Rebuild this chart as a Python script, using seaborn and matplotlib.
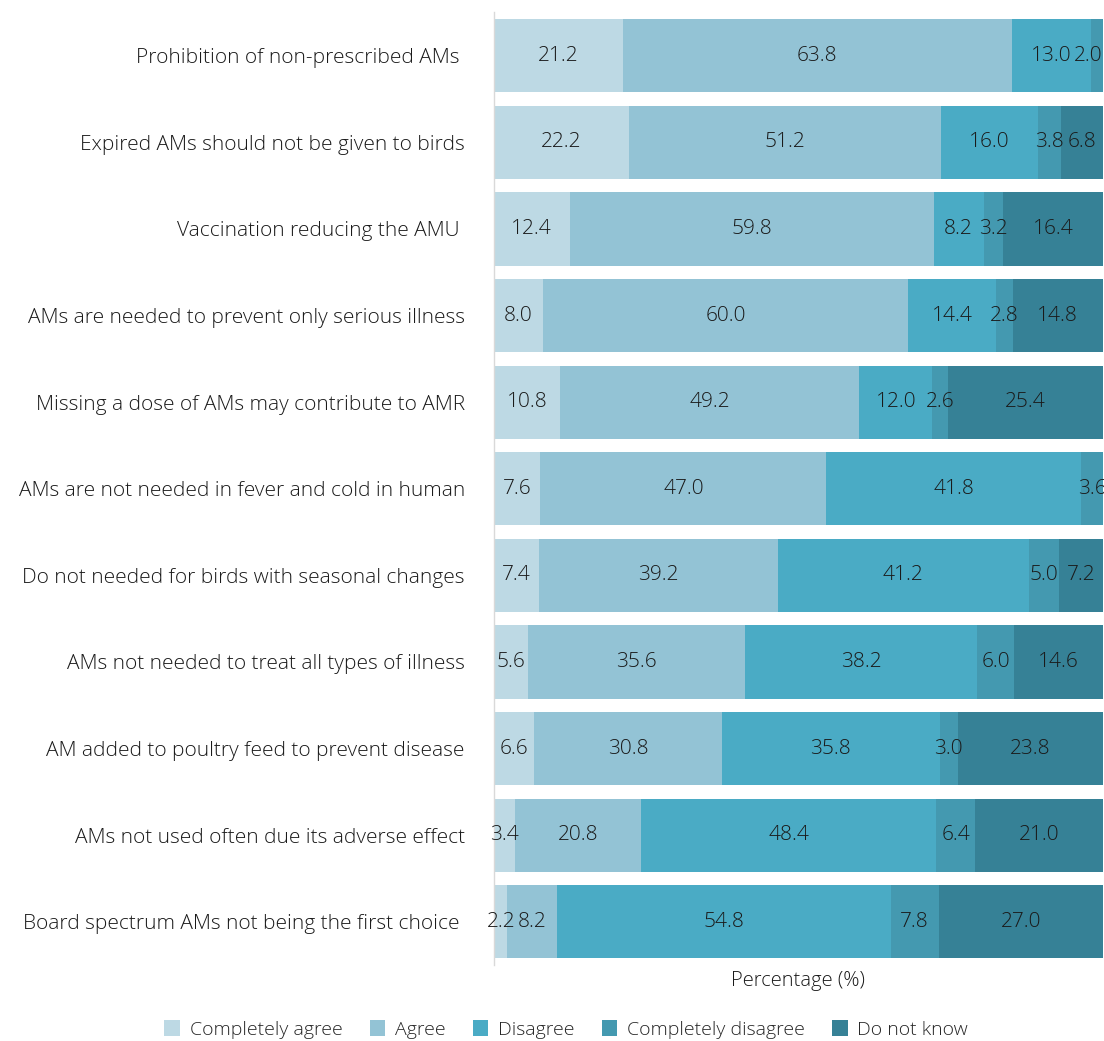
import matplotlib
matplotlib.use("Agg")
import matplotlib.pyplot as plt
from matplotlib.patches import Patch
import numpy as np
import pandas as pd
import seaborn as sns

statements = [
    "Prohibition of non-prescribed AMs ",
    "Expired AMs should not be given to birds",
    "Vaccination reducing the AMU ",
    "AMs are needed to prevent only serious illness",
    "Missing a dose of AMs may contribute to AMR",
    "AMs are not needed in fever and cold in human",
    "Do not needed for birds with seasonal changes",
    "AMs not needed to treat all types of illness",
    "AM added to poultry feed to prevent disease",
    "AMs not used often due its adverse effect",
    "Board spectrum AMs not being the first choice ",
]
responses = ["Completely agree", "Agree", "Disagree", "Completely disagree", "Do not know"]

completely_agree = [21.2, 22.2, 12.4, 8.0, 10.8, 7.6, 7.4, 5.6, 6.6, 3.4, 2.2]
agree = [63.8, 51.2, 59.8, 60.0, 49.2, 47.0, 39.2, 35.6, 30.8, 20.8, 8.2]
disagree = [13.0, 16.0, 8.2, 14.4, 12.0, 41.8, 41.2, 38.2, 35.8, 48.4, 54.8]
completely_disagree = [2.0, 3.8, 3.2, 2.8, 2.6, 3.6, 5.0, 6.0, 3.0, 6.4, 7.8]
do_not_know = [0.0, 6.8, 16.4, 14.8, 25.4, 0.0, 7.2, 14.6, 23.8, 21.0, 27.0]

colors = ["#BDD9E4", "#93C3D5", "#4AABC5", "#4499B0", "#368196"]

df = pd.DataFrame(
    {
        "statement": statements,
        responses[0]: completely_agree,
        responses[1]: agree,
        responses[2]: disagree,
        responses[3]: completely_disagree,
        responses[4]: do_not_know,
    }
)
cum = df[responses].cumsum(axis=1)

sns.set_theme(style="white")
plt.rcParams["font.family"] = ["Open Sans", "DejaVu Sans"]
plt.rcParams["font.weight"] = "light"

FS = 15
TXT = "#1a1a1a"

fig = plt.figure(figsize=(11.04, 10.41), dpi=100)
ax = fig.add_axes([0.4475, 0.073, 0.5515, 0.915])

# stacked bars: draw cumulative totals from the outermost layer inwards
for resp, col in zip(responses[::-1], colors[::-1]):
    sns.barplot(
        data=cum.assign(statement=df["statement"]),
        x=resp,
        y="statement",
        color=col,
        orient="h",
        width=0.845,
        saturation=1,
        ax=ax,
        linewidth=0,
    )

for i in range(len(statements)):
    left = 0.0
    for resp in responses:
        v = df.loc[i, resp]
        if v > 0:
            xc = left + v / 2
            if xc > 98.5:
                ax.text(100, i, f"{v:.1f}", ha="right", va="center",
                        fontsize=FS, color=TXT, fontweight="light")
            else:
                ax.text(xc, i, f"{v:.1f}", ha="center", va="center",
                        fontsize=FS, color=TXT, fontweight="light")
        left += v

ax.set_xlim(0, 100)
ax.set_ylim(10.5, -0.5)
ax.set_xticks([])
ax.set_ylabel("")
ax.set_xlabel("Percentage (%)", fontsize=14.5, color=TXT, labelpad=4,
              fontweight="light")
ax.tick_params(axis="y", length=0, pad=21, labelsize=FS, labelcolor=TXT)
for lab in ax.get_yticklabels():
    lab.set_fontweight("light")
for s in ["top", "right", "bottom"]:
    ax.spines[s].set_visible(False)
ax.spines["left"].set_color("#d9d9d9")
ax.spines["left"].set_linewidth(1)

handles = [Patch(facecolor=c, edgecolor="none", label=r) for r, c in zip(responses, colors)]
leg = fig.legend(handles=handles, loc="center", bbox_to_anchor=(0.513, 0.011), ncol=5,
                 frameon=False, fontsize=14, handlelength=0.8, handleheight=0.9,
                 handletextpad=0.5, columnspacing=1.4)
for t in leg.get_texts():
    t.set_fontweight("light")

fig.savefig("out.png", dpi=100, facecolor="white")
